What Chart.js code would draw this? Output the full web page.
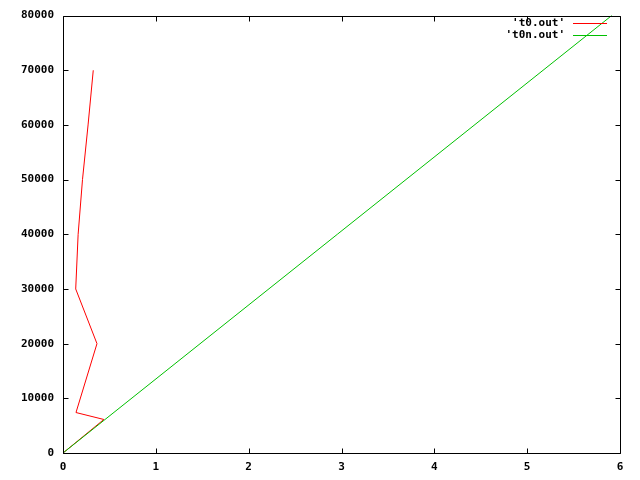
<!DOCTYPE html>
<html>
<head>
<meta charset="utf-8">
<script src="https://cdn.jsdelivr.net/npm/chart.js@4"></script>
<style>
html,body{margin:0;padding:0;background:#fff;}
#wrap{width:640px;height:480px;}
</style>
</head>
<body>
<div id="wrap"><canvas id="c" width="640" height="480"></canvas></div>
<script>
// Series 't0.out'
const t0Label = "'t0.out'";
const t0X = [0.0, 0.44, 0.14, 0.366, 0.137, 0.163, 0.21, 0.27, 0.326];
const t0Y = [0, 6130, 7400, 20000, 30000, 40000, 50000, 60000, 70000];
// Series 't0n.out'
const t0nLabel = "'t0n.out'";
const t0nX = [0.0, 5.91];
const t0nY = [0, 80000];
// Axis ranges / ticks
const xMin = 0, xMax = 6, xStep = 1;
const yMin = 0, yMax = 80000, yStep = 10000;

const RED = '#ff0000', GREEN = '#00c000';
const FONT = {family: "'DejaVu Sans Mono', 'Liberation Mono', monospace", size: 11, weight: 'bold'};

function pts(xs, ys){ return xs.map((x,i)=>({x:x, y:ys[i]})); }

const framePlugin = {
  id: 'frame',
  afterDatasetsDraw(chart){
    const ctx = chart.ctx;
    const {left, right, top, bottom} = chart.chartArea;
    const xs = chart.scales.x, ys = chart.scales.y;
    const L = Math.round(left)+0.5, R = Math.round(right)+0.5, T = Math.round(top)+0.5, B = Math.round(bottom)+0.5;
    const tl = 5;
    ctx.save();
    ctx.strokeStyle = '#000';
    ctx.lineWidth = 1;
    ctx.beginPath();
    ctx.rect(L, T, R-L, B-T);
    xs.ticks.forEach(t=>{
      const px = Math.round(xs.getPixelForValue(t.value))+0.5;
      ctx.moveTo(px, B); ctx.lineTo(px, B-tl);
      ctx.moveTo(px, T); ctx.lineTo(px, T+tl);
    });
    ys.ticks.forEach(t=>{
      const py = Math.round(ys.getPixelForValue(t.value))+0.5;
      ctx.moveTo(L, py); ctx.lineTo(L+tl, py);
      ctx.moveTo(R, py); ctx.lineTo(R-tl, py);
    });
    ctx.stroke();
    ctx.restore();
  },
  afterDraw(chart){
    const ctx = chart.ctx;
    // legend (gnuplot style: text then line sample)
    const cols = [RED, GREEN];
    ctx.save();
    ctx.font = `${FONT.weight} ${FONT.size}px ${FONT.family}`;
    ctx.textAlign = 'right';
    ctx.textBaseline = 'middle';
    chart.data.datasets.forEach((ds, i)=>{
      const y = 23 + i*12;
      ctx.fillStyle = '#000';
      ctx.fillText(ds.label, 565, y);
      ctx.fillStyle = cols[i];
      ctx.fillRect(573, y, 34, 1);
    });
    ctx.restore();
  }
};

new Chart(document.getElementById('c'), {
  type: 'scatter',
  data: {
    datasets: [
      {label: t0Label, data: pts(t0X, t0Y), showLine: true, borderColor: RED, backgroundColor: RED, borderWidth: 1, pointRadius: 0, tension: 0, order: 2, clip: false},
      {label: t0nLabel, data: pts(t0nX, t0nY), showLine: true, borderColor: GREEN, backgroundColor: GREEN, borderWidth: 1, pointRadius: 0, tension: 0, order: 1, clip: false}
    ]
  },
  options: {
    responsive: false,
    animation: false,
    events: [],
    layout: {padding: {left: 0, right: 20, top: 13, bottom: 0}},
    plugins: {legend: {display: false}, tooltip: {enabled: false}},
    scales: {
      x: {
        type: 'linear', min: xMin, max: xMax,
        grid: {display: false, drawTicks: false},
        border: {display: false},
        ticks: {stepSize: xStep, color: '#000', font: FONT, padding: 8, maxRotation: 0, callback: v => String(v)},
        afterFit(s){ s.height = 27; }
      },
      y: {
        type: 'linear', min: yMin, max: yMax,
        grid: {display: false, drawTicks: false},
        border: {display: false},
        ticks: {stepSize: yStep, color: '#000', font: FONT, padding: 9, callback: v => String(v)},
        afterFit(s){ s.width = 63; }
      }
    }
  },
  plugins: [framePlugin]
});
</script>
</body>
</html>
